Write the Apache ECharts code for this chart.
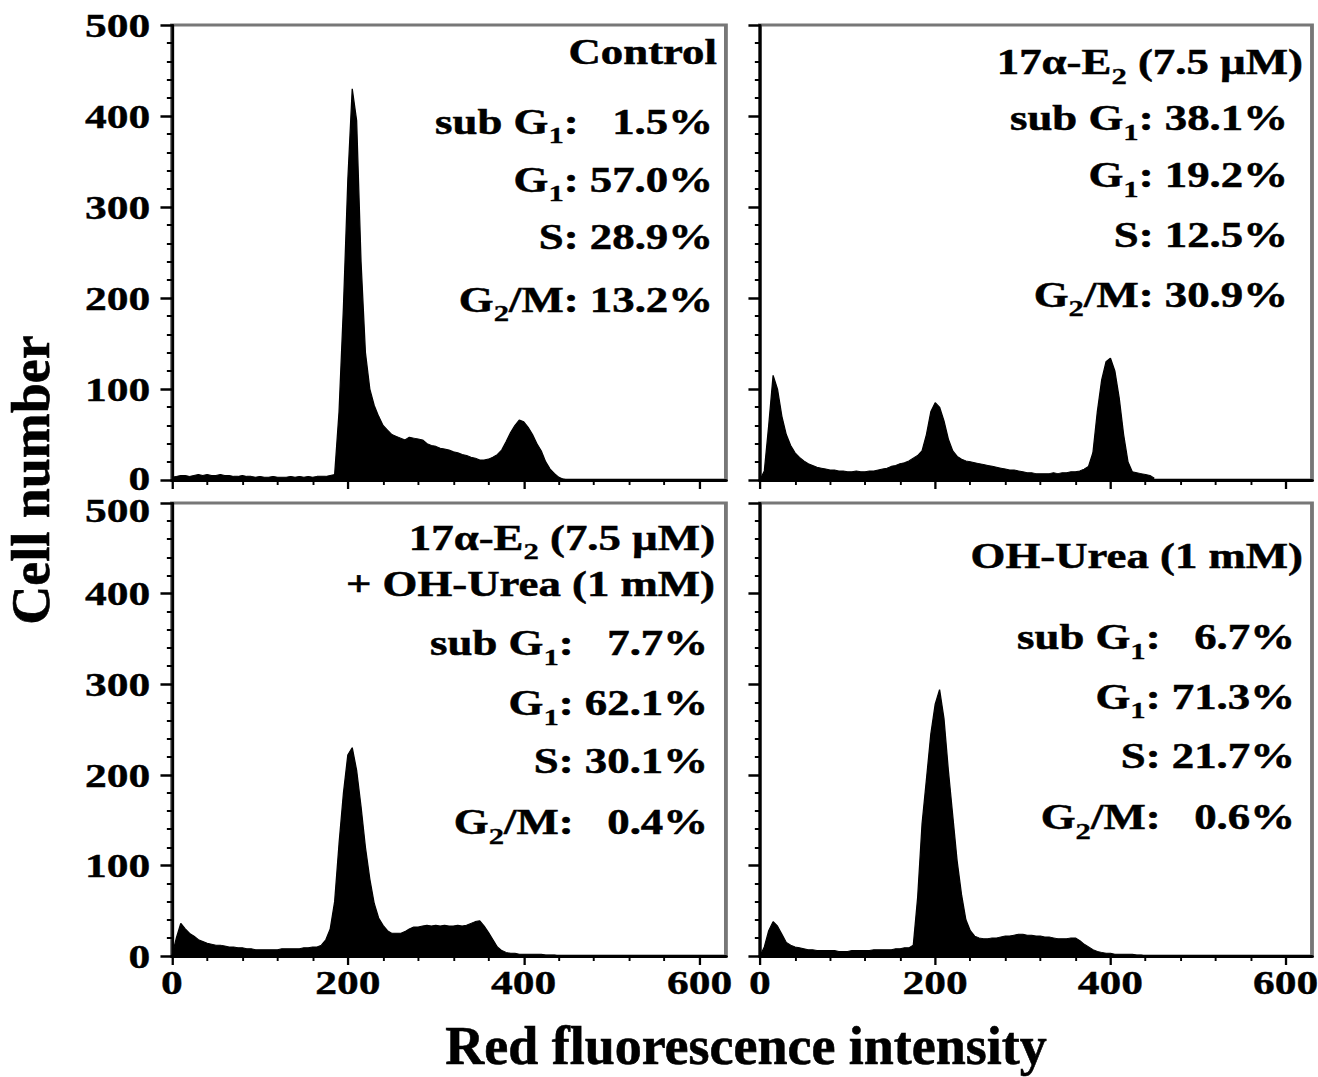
<!DOCTYPE html>
<html><head><meta charset="utf-8">
<script src="https://cdn.jsdelivr.net/npm/echarts@6/dist/echarts.min.js"></script>
<style>
html,body{margin:0;padding:0;background:#fff;overflow:hidden;width:1318px;height:1077px;}
#main{width:1030px;height:1077px;transform:scaleX(1.279612);transform-origin:0 0;}
</style></head><body><div id="main"></div>
<script>
// ---------- data ----------
const xs = [0,5,10,15,20,25,30,35,40,45,50,55,60,65,70,75,80,85,90,95,
100,105,110,115,120,125,130,135,140,145,150,155,160,165,170,175,180,185,190,195,
200,205,210,215,220,225,230,235,240,245,250,255,260,265,270,275,280,285,290,295,
300,305,310,315,320,325,330,335,340,345,350,355,360,365,370,375,380,385,390,395,
400,405,410,415,420,425,430,435,440,445,450];

const controlCounts = [3,4,5,5,4,5,6,5,6,5,
5,6,5,5,4,4,5,4,4,3,
4,3,3,4,3,3,3,4,3,4,
3,4,3,4,4,4,5,6,75,190,
330,430,395,240,140,100,82,70,60,55,
50,48,46,44,47,46,45,44,40,38,
37,35,34,33,31,30,28,27,25,24,
22,22,23,25,28,33,42,52,60,66,
64,58,50,40,32,20,12,7,3,1,
0];

const e2Counts = [0,10,60,115,100,70,50,38,30,25,
21,18,16,14,13,12,11,11,10,10,
9,9,10,9,9,10,10,11,12,13,
15,16,18,19,21,24,27,32,50,75,
85,80,65,45,32,26,23,21,20,19,
18,17,16,15,14,13,12,11,11,10,
9,8,8,7,7,7,7,8,7,8,
8,9,9,10,12,15,30,75,110,130,
134,120,90,50,20,9,8,7,6,5,
2];

const e2UreaCounts = [0,20,36,30,25,22,18,16,14,13,
12,12,11,10,10,9,9,8,8,7,
7,7,7,7,7,8,8,8,8,8,
9,9,10,10,12,18,30,60,124,180,
222,230,205,165,120,85,58,42,34,28,
25,25,25,27,30,32,32,33,34,33,
34,33,34,33,33,34,33,34,36,38,
39,33,26,18,10,6,4,3,3,2,
2,2,2,2,2,1,1,1,0,0,
0];

const ureaCounts = [0,10,28,38,33,24,15,12,10,9,
8,7,7,6,6,6,6,6,5,5,
5,6,6,6,6,6,7,7,7,7,
7,8,8,9,9,12,65,146,195,245,
278,294,262,205,155,105,68,40,28,22,
20,19,19,20,20,21,22,22,23,24,
24,23,23,22,22,21,21,20,19,19,
19,20,20,17,13,10,7,5,4,3,
3,2,2,2,2,2,1,1,0,0,
0];

const xMajorTicks = [0,200,400,600];
const xMinorTicks = [40,80,120,160,240,280,320,360,440,480,520,560];

const panelTitles = [
  ['Control'],
  ['17α-E{s|2} (7.5 µM)'],
  ['17α-E{s|2} (7.5 µM)', '+ OH-Urea (1 mM)'],
  ['OH-Urea (1 mM)']
];
const subG1 = ['1.5%', '38.1%', '7.7%', '6.7%'];
const g1 = ['57.0%', '19.2%', '62.1%', '71.3%'];
const sPhase = ['28.9%', '12.5%', '30.1%', '21.7%'];
const g2m = ['13.2%', '30.9%', '0.4%', '0.6%'];

const xTitle = 'Red fluorescence intensity';
const yTitle = 'Cell number';

// ---------- layout ----------
const S = 1318 / 1030;
const FF = "'Liberation Serif','Times New Roman',serif";
const seriesData = [controlCounts, e2Counts, e2UreaCounts, ureaCounts];

const gridBoxes = [
  {left: 134.4, top: 25, width: 432.9, height: 455},
  {left: 593.9, top: 25, width: 431.4, height: 455},
  {left: 134.4, top: 503, width: 432.9, height: 453},
  {left: 593.9, top: 503, width: 431.4, height: 453}
];

const baseFont = {fontFamily: FF, fontWeight: 'bold', fontSize: 34, color: '#000',
  textBorderColor: '#000', textBorderWidth: 0.4};
const labelFont = Object.assign({lineHeight: 21}, baseFont);

const grid = gridBoxes.map(g => Object.assign({
  show: true, borderColor: '#777', borderWidth: 3, backgroundColor: 'transparent',
  containLabel: false, outerBoundsMode: 'none'
}, g));

const xAxis = [];
for (let i = 0; i < 4; i++) {
  xAxis.push({
    type: 'value', gridIndex: i, min: 0, max: 630, interval: 200, position: 'bottom',
    axisLine: {show: true, onZero: false, lineStyle: {color: '#000', width: 3}},
    axisTick: {show: true, length: 9, customValues: xMajorTicks, lineStyle: {color: '#000', width: 1.8}},
    axisLabel: Object.assign({show: i >= 2, customValues: xMajorTicks, margin: 16}, labelFont),
    splitLine: {show: false}
  });
}
for (let i = 0; i < 4; i++) {
  xAxis.push({
    type: 'value', gridIndex: i, min: 0, max: 630, position: 'bottom', offset: 0,
    axisLine: {show: false},
    axisTick: {show: true, length: 5, customValues: xMinorTicks, lineStyle: {color: '#000', width: 1.5}},
    axisLabel: {show: false},
    splitLine: {show: false}
  });
}

const yRich = {
  lo: Object.assign({lineHeight: 21, padding: [14, 0, 0, 0]}, baseFont),
  up: Object.assign({lineHeight: 21, padding: [0, 0, 4, 0]}, baseFont)
};
const yAxis = [];
for (let i = 0; i < 4; i++) {
  const isTop = i < 2;
  yAxis.push({
    type: 'value', gridIndex: i, min: 0, max: 500, interval: 100,
    axisLine: {show: true, onZero: false, lineStyle: {color: '#000', width: 2.2}},
    axisTick: {show: true, length: 9, lineStyle: {color: '#000', width: 2.5}},
    minorTick: {show: true, splitNumber: 5, length: 4, lineStyle: {color: '#000', width: 2}},
    axisLabel: Object.assign({
      show: i % 2 === 0, margin: 17, rich: yRich,
      formatter: v => (isTop && v === 0) ? '{up|0}' : (!isTop && v === 500) ? '{lo|500}' : String(v)
    }, labelFont),
    splitLine: {show: false}
  });
}

const series = seriesData.map((vals, i) => ({
  type: 'line', xAxisIndex: i, yAxisIndex: i,
  data: xs.map((x, j) => [x, vals[j]]),
  symbol: 'none', silent: true,
  lineStyle: {color: '#000', width: 1},
  areaStyle: {color: '#000', opacity: 1}
}));

// ---------- annotations ----------
const rich = {
  m: {fontFamily: FF, fontWeight: 'bold', fontSize: 35, fill: '#000', stroke: '#000', lineWidth: 0.5},
  s: {fontFamily: FF, fontWeight: 'bold', fontSize: 24, fill: '#000', stroke: '#000', lineWidth: 0.3, padding: [26, 0, 0, 0]}
};
function pad(v) { return v.length < 5 ? '\u00a0\u00a0\u00a0' : ' '; }
function statLines(i) {
  return [
    '{m|sub G}{s|1}{m|:' + pad(subG1[i]) + subG1[i] + '}',
    '{m|G}{s|1}{m|: ' + g1[i] + '}',
    '{m|S: ' + sPhase[i] + '}',
    '{m|G}{s|2}{m|/M:' + pad(g2m[i]) + g2m[i] + '}'
  ];
}
function wrapTitle(t) {
  return t.split(/(\{s\|[^}]*\})/).filter(p => p.length).map(p => p.startsWith('{s|') ? p : '{m|' + p + '}').join('');
}
const annot = [
  {titleX: 560.3, statX: 557.2, titleY: [52], statY: [122, 180, 237, 300]},
  {titleX: 1018.3, statX: 1006.5, titleY: [62.5], statY: [118.5, 175.5, 235, 295]},
  {titleX: 558.8, statX: 553.3, titleY: [538, 584], statY: [643.5, 703.6, 761, 822.6]},
  {titleX: 1018.3, statX: 1012.0, titleY: [556], statY: [637.5, 697, 756, 817.5]}
];
const graphic = [];
annot.forEach((a, i) => {
  panelTitles[i].forEach((t, k) => {
    graphic.push({type: 'text', x: a.titleX, y: a.titleY[k], silent: true,
      style: {text: wrapTitle(t), rich: rich, align: 'right', verticalAlign: 'middle'}});
  });
  statLines(i).forEach((t, k) => {
    graphic.push({type: 'text', x: a.statX, y: a.statY[k], silent: true,
      style: {text: t, rich: rich, align: 'right', verticalAlign: 'middle'}});
  });
});
graphic.push({type: 'text', x: 746 / S, y: 1046, scaleX: 1 / S, silent: true,
  style: {text: xTitle, fontFamily: FF, fontWeight: 'bold', fontSize: 54, fill: '#000', stroke: '#000', lineWidth: 0.6, align: 'center', verticalAlign: 'middle'}});
graphic.push({type: 'text', x: 31 / S, y: 480, rotation: Math.PI / 2, scaleY: 1 / S, silent: true,
  style: {text: yTitle, fontFamily: FF, fontWeight: 'bold', fontSize: 54, fill: '#000', stroke: '#000', lineWidth: 0.6, align: 'center', verticalAlign: 'middle'}});

const chart = echarts.init(document.getElementById('main'), null, {renderer: 'svg'});
chart.setOption({
  animation: false,
  backgroundColor: '#fff',
  grid: grid, xAxis: xAxis, yAxis: yAxis, series: series, graphic: graphic
});
</script></body></html>
